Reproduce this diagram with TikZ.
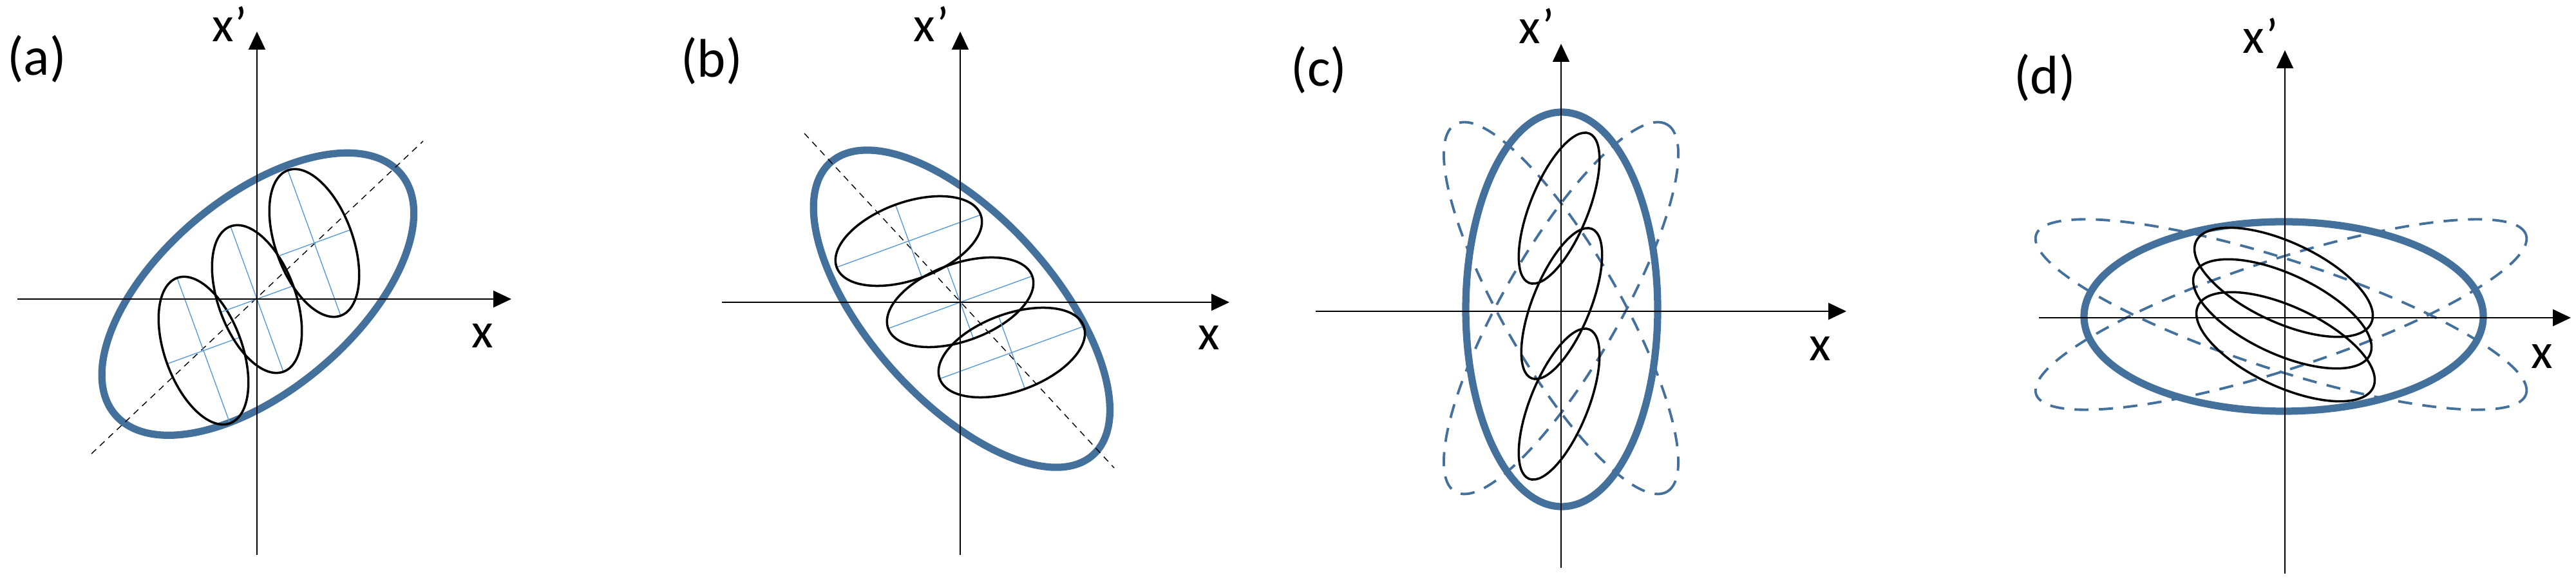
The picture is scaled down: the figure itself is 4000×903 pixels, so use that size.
\documentclass[tikz,border=0pt]{standalone}
\usepackage{fontspec}
\setmainfont{Carlito}
\usetikzlibrary{arrows.meta, positioning}

\definecolor{envblue}{HTML}{44709C}
\definecolor{axisblue}{HTML}{5B9BD5}

\tikzset{
    axis/.style={line width=0.6pt, -{Triangle[length=2.8mm, width=2.6mm]}},
    envelope/.style={envblue, line width=3.2pt},
    ghost/.style={envblue, line width=1.1pt, dash pattern=on 2.2mm off 1.6mm},
    beam/.style={black, line width=1pt},
    crossline/.style={axisblue, line width=0.4pt},
    tiltline/.style={black, line width=0.4pt, dash pattern=on 1mm off 0.8mm},
    panel/.style={font=\fontsize{24}{28}\selectfont, inner sep=0pt},
    axlabel/.style={font=\fontsize{22}{26}\selectfont, inner sep=0pt}
}

\begin{document}
\begin{tikzpicture}[x=0.1mm, y=0.1mm]
    \useasboundingbox (0,0) rectangle (4000,903);

    % (a)
    \begin{scope}[shift={(399,439)}]
        \draw[envelope, rotate=40] (6,5) ellipse (290 and 150);
        \draw[tiltline] (-257,-240) -- (258,245);
        \foreach \cx/\cy in {-83/-80, 0/0, 89/87} {
            \begin{scope}[shift={(\cx,\cy)}, rotate=20]
                \draw[crossline] (-60,0) -- (60,0) (0,-120) -- (0,120);
                \draw[beam] (0,0) ellipse (60 and 120);
            \end{scope}
        }
        \draw[axis] (-372,0) -- (395,0);
        \draw[axis] (0,-397) -- (0,415);
        \node[panel] (lblA) at (-342,372) {(a)};
        \node[axlabel] (xpA) at (-42,427) {x’};
        \node[axlabel] (xA) at (350,-57) {x};
    \end{scope}

    % (b)
    \begin{scope}[shift={(1491,434)}]
        \draw[envelope, rotate=-48] (9,-5) ellipse (305 and 143);
        \draw[tiltline] (-242,262) -- (239,-257);
        \foreach \cx/\cy in {-80/95, 0/0, 80/-78} {
            \begin{scope}[shift={(\cx,\cy)}, rotate=20]
                \draw[crossline] (-119,0) -- (119,0) (0,-60) -- (0,60);
                \draw[beam] (0,0) ellipse (119 and 60);
            \end{scope}
        }
        \draw[axis] (-370,0) -- (418,0);
        \draw[axis] (0,-392) -- (0,420);
        \node[panel] (lblB) at (-386,374) {(b)};
        \node[axlabel] (xpB) at (-45,432) {x’};
        \node[axlabel] (xB) at (386,-55) {x};
    \end{scope}

    % (c)
    \begin{scope}[shift={(2424,420)}]
        \draw[ghost, rotate around={60:(0,5)}] (0,5) ellipse (329 and 90);
        \draw[ghost, rotate around={-60:(0,5)}] (0,5) ellipse (329 and 90);
        \draw[envelope] (1,3) ellipse (149 and 306);
        \foreach \cx/\cy in {-3/160, 1/12, -3/-144}
            \draw[beam, rotate around={68:(\cx,\cy)}] (\cx,\cy) ellipse (125 and 45);
        \draw[axis] (-381,0) -- (443,0);
        \draw[axis] (0,-398) -- (0,415);
        \node[panel] (lblC) at (-376,374) {(c)};
        \node[axlabel] (xpC) at (-38,443) {x’};
        \node[axlabel] (xC) at (402,-58) {x};
    \end{scope}

    % (d)
    \begin{scope}[shift={(3548,410)}]
        \draw[ghost, rotate around={18:(-6,5)}] (-6,5) ellipse (400 and 85);
        \draw[ghost, rotate around={-18:(-6,5)}] (-6,5) ellipse (400 and 85);
        \draw[envelope] (-2,2) ellipse (310 and 147);
        \foreach \cx/\cy in {-2/55, -4/6, 1/-45}
            \draw[beam, rotate around={-25:(\cx,\cy)}] (\cx,\cy) ellipse (150 and 62);
        \draw[axis] (-382,0) -- (444,0);
        \draw[axis] (0,-397) -- (0,415);
        \node[panel] (lblD) at (-373,372) {(d)};
        \node[axlabel] (xpD) at (-38,438) {x’};
        \node[axlabel] (xD) at (399,-60) {x};
    \end{scope}
\end{tikzpicture}
\end{document}
